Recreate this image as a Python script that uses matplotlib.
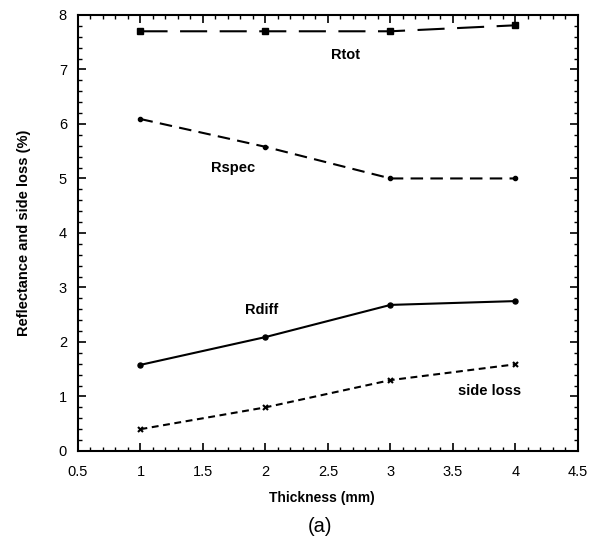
import matplotlib
matplotlib.use("Agg")
import matplotlib.pyplot as plt
from matplotlib.ticker import MultipleLocator, FormatStrFormatter

plt.rcParams['font.family'] = ['Liberation Sans', 'DejaVu Sans']

# Reflectance components vs. sample thickness
thickness = [1, 2, 3, 4]
r_tot = [7.7, 7.7, 7.7, 7.81]
r_spec = [6.09, 5.58, 5.0, 5.0]
r_diff = [1.58, 2.09, 2.68, 2.75]
side_loss = [0.4, 0.8, 1.3, 1.59]

fig = plt.figure(figsize=(5.99, 5.41), dpi=100)
ax = fig.add_axes([0.1302, 0.1664, 0.8347, 0.806])

ax.plot(thickness, r_tot, color='black', lw=1.5, dashes=(13, 6),
        marker='s', ms=3.8)
ax.plot(thickness, r_spec, color='black', lw=1.5, dashes=(6, 3.5),
        marker='o', ms=3)
ax.plot(thickness, r_diff, color='black', lw=1.5,
        marker='o', ms=3.6)
ax.plot(thickness, side_loss, color='black', lw=1.5, dashes=(3.3, 2.2),
        marker='x', ms=3.6, mew=1.5)

lbl = dict(fontsize=10.5, fontweight='bold', ha='center', va='center')
ax.text(2.64, 7.27, 'Rtot', **lbl)
ax.text(1.74, 5.2, 'Rspec', **lbl)
ax.text(1.97, 2.58, 'Rdiff', **lbl)
ax.text(3.79, 1.10, 'side loss', **lbl)

ax.set_xlim(0.5, 4.5)
ax.set_ylim(0, 8)
ax.xaxis.set_major_locator(MultipleLocator(0.5))
ax.xaxis.set_minor_locator(MultipleLocator(0.1))
ax.yaxis.set_major_locator(MultipleLocator(1))
ax.yaxis.set_minor_locator(MultipleLocator(0.2))
ax.xaxis.set_major_formatter(FormatStrFormatter('%g'))
ax.yaxis.set_major_formatter(FormatStrFormatter('%g'))
ax.tick_params(which='both', direction='in', top=True, right=True, labelsize=10.5)
ax.tick_params(axis='x', which='major', pad=10)
ax.tick_params(axis='y', which='major', pad=8)
ax.tick_params(which='major', length=6, width=1.2)
ax.tick_params(which='minor', length=3, width=1)
for s in ax.spines.values():
    s.set_linewidth(1.5)

ax.set_xlabel('Thickness (mm)', fontsize=10, fontweight='bold')
ax.xaxis.set_label_coords(0.488, -0.092)
ax.set_ylabel('Reflectance and side loss (%)', fontsize=10.5, fontweight='bold')
ax.yaxis.set_label_coords(-0.094, 0.5)
fig.text(0.534, 0.027, '(a)', fontsize=14.5, ha='center', va='center')

fig.savefig('out.png', dpi=100)
